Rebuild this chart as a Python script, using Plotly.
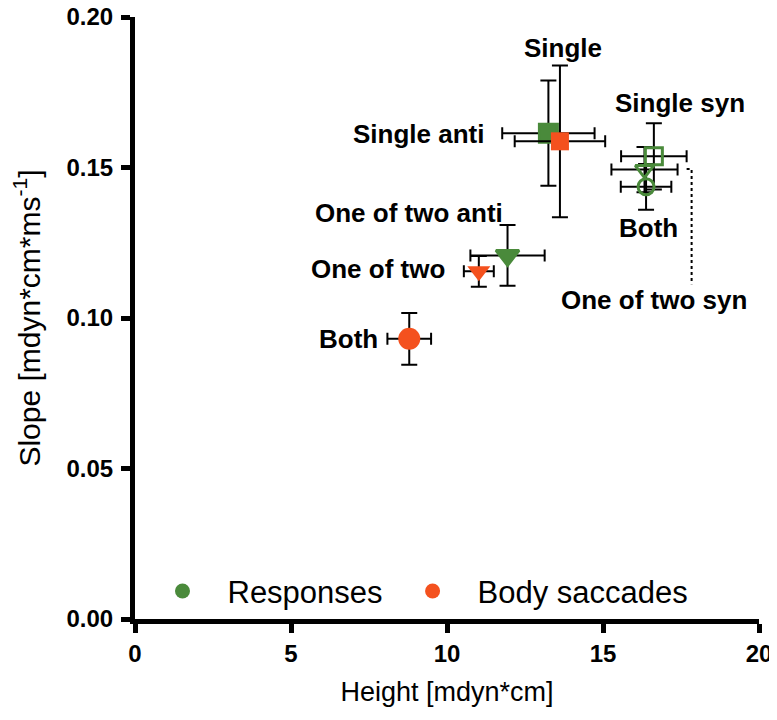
import plotly.graph_objects as go

# Responses (green): anti and syn conditions
resp_labels = ["Single anti", "One of two anti", "Single syn", "One of two syn", "Both"]
resp_height = [13.25, 11.94, 16.63, 16.33, 16.38]
resp_height_err = [1.48, 1.19, 1.05, 1.06, 0.81]
resp_slope = [0.1614, 0.1208, 0.1537, 0.1493, 0.1436]
resp_slope_err = [0.0175, 0.0101, 0.0110, 0.0075, 0.0076]

# Body saccades (red)
sacc_labels = ["Single", "One of two", "Both"]
sacc_height = [13.62, 11.02, 8.79]
sacc_height_err = [1.45, 0.48, 0.70]
sacc_slope = [0.1587, 0.1155, 0.0931]
sacc_slope_err = [0.0252, 0.0051, 0.0086]

x_ticks = [0, 5, 10, 15, 20]
y_ticks = [0.00, 0.05, 0.10, 0.15, 0.20]

GREEN = "#4A8A3B"
RED = "#F4511E"
FONT = "Arial, Liberation Sans, sans-serif"

fig = go.Figure()

err_style = dict(type="data", color="black", thickness=2)

fig.add_trace(go.Scatter(
    x=resp_height, y=resp_slope, mode="markers", showlegend=False,
    error_x=dict(array=resp_height_err, width=6, **err_style),
    error_y=dict(array=resp_slope_err, width=8, **err_style),
    marker=dict(symbol=["square", "triangle-down", "square-open",
                        "triangle-down-open", "circle-open"],
                size=[18, 20, 17, 16, 16], color=GREEN, opacity=1,
                line=dict(color=GREEN, width=3)),
))
fig.add_trace(go.Scatter(
    x=sacc_height, y=sacc_slope, mode="markers", showlegend=False,
    error_x=dict(array=sacc_height_err, width=6, **err_style),
    error_y=dict(array=sacc_slope_err, width=8, **err_style),
    marker=dict(symbol=["square", "triangle-down", "circle"],
                size=[18, 20, 22], color=RED, opacity=1, line=dict(width=0)),
))

# legend entries
fig.add_trace(go.Scatter(x=[None], y=[None], mode="markers", name="Responses",
                         marker=dict(symbol="circle", size=15, color=GREEN)))
fig.add_trace(go.Scatter(x=[None], y=[None], mode="markers", name="Body saccades",
                         marker=dict(symbol="circle", size=15, color=RED)))

# label offsets in pixels from each point: (xshift, yshift, xanchor)
resp_offsets = [(-62, -1, "right"), (-3, 42, "right"), (26, 53, "center"),
                (9, -130, "center"), (2, -41, "center")]
sacc_offsets = [(3, 93, "center"), (-32, 2, "right"), (-29, 0, "right")]

for labels, xs, ys, offs in [(resp_labels, resp_height, resp_slope, resp_offsets),
                             (sacc_labels, sacc_height, sacc_slope, sacc_offsets)]:
    for lab, xv, yv, (dx, dy, anc) in zip(labels, xs, ys, offs):
        fig.add_annotation(x=xv, y=yv, text="<b>%s</b>" % lab, showarrow=False,
                           xshift=dx, yshift=dy, xanchor=anc, yanchor="middle",
                           font=dict(family=FONT, size=26, color="black"))

# dotted leader to "One of two syn"
fig.add_shape(type="path", xref="x", yref="y",
              path="M 17.68 0.1495 L 17.84 0.1495 L 17.84 0.1112",
              line=dict(color="black", width=2, dash="dot"))

axis_common = dict(showline=True, linecolor="black", linewidth=5,
                   ticks="outside", ticklen=9, tickwidth=5, tickcolor="black",
                   showgrid=False, zeroline=False, automargin=False,
                   ticklabeloverflow="allow",
                   tickfont=dict(family=FONT, size=24, color="black", weight="bold"))

fig.update_xaxes(range=[0, 20], tickvals=x_ticks, ticktext=[str(v) for v in x_ticks],
                 title=dict(text="Height [mdyn*cm]", standoff=18,
                            font=dict(family=FONT, size=27, color="black")),
                 **axis_common)
fig.update_yaxes(range=[0, 0.2], tickvals=y_ticks, ticktext=["%.2f" % v for v in y_ticks],
                 ticklabelstandoff=3,
                 title=dict(text="Slope [mdyn*cm*ms<sup>-1</sup>]", standoff=34,
                            font=dict(family=FONT, size=30, color="black")),
                 **axis_common)

fig.update_layout(
    width=777, height=720,
    margin=dict(l=127, r=26, t=9, b=109),
    plot_bgcolor="white", paper_bgcolor="white",
    legend=dict(orientation="h", x=0.004, y=0.046, xanchor="left", yanchor="middle",
                itemwidth=80, bgcolor="rgba(0,0,0,0)",
                font=dict(family=FONT, size=31, color="black")),
)

fig.write_html("out.html")
